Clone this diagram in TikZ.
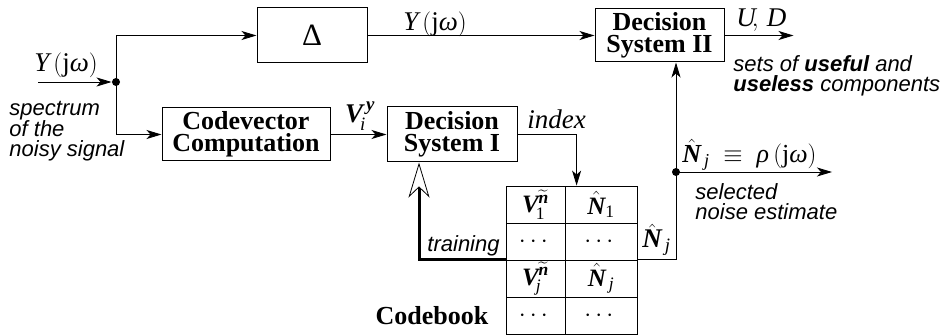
\documentclass[tikz,border=0pt]{standalone}
\usepackage{amsmath}
\usepackage{fontspec}
\setmainfont{Liberation Serif}
\setsansfont{Liberation Sans}
\usetikzlibrary{arrows.meta,calc}
\newcommand\bi[1]{\text{\bfseries\itshape #1}}
\newcommand\ti[1]{\text{\itshape #1}}
\newcommand\tu[1]{\text{#1}}
\begin{document}
\begin{tikzpicture}[x=1pt,y=-1pt, line width=0.9pt,
  box/.style={draw, line width=1pt, inner sep=0pt, font=\fontsize{26}{22}\selectfont\bfseries, align=center},
  cell/.style={draw, line width=0.8pt, inner sep=0pt, minimum height=37pt, font=\fontsize{25}{25}\selectfont},
  arr/.style={-{Stealth[length=15pt,width=9pt,inset=4pt]}},
  train/.style={line width=3pt,-{Stealth[open,fill=white,length=35pt,width=21pt,inset=10pt,line width=0.8pt]}},
  note/.style={font=\fontsize{22}{20}\selectfont\sffamily\itshape, align=left, inner sep=0pt},
  lab/.style={font=\fontsize{27}{24}\selectfont, inner sep=0pt},
  dotn/.style={circle, fill, inner sep=0pt, minimum size=8pt}
]
\useasboundingbox (0,0) rectangle (947,336);
% boxes
\node[box, minimum width=110pt, minimum height=55pt, font=\fontsize{31}{31}\selectfont] (delta) at (312,35.5) {Δ};
\node[box, minimum width=168pt, minimum height=53pt] (cv) at (246,134.5) {Codevector\\Computation};
\node[box, minimum width=130pt, minimum height=55pt] (ds1) at (452,134.5) {Decision\\System I};
\node[box, minimum width=129pt, minimum height=53pt] (ds2) at (659.5,35.5) {Decision\\System II};
% table
\node[cell, minimum width=59pt] (c11) at (535.5,204.5) {$\bi{V}_{\!\tu{1}}^{\widetilde{\bi{n}}}$};
\node[cell, minimum width=72pt] (c12) at (601,204.5) {$\hat{\bi{N}}_{\tu{1}}$};
\node[cell, minimum width=59pt] (c21) at (535.5,241.5) {$\cdots$};
\node[cell, minimum width=72pt] (c22) at (601,241.5) {$\cdots$};
\node[cell, minimum width=59pt] (c31) at (535.5,278.5) {$\bi{V}_{\!\ti{j}}^{\widetilde{\bi{n}}}$};
\node[cell, minimum width=72pt] (c32) at (601,278.5) {$\hat{\bi{N}}_{\,\ti{j}}$};
\node[cell, minimum width=59pt] (c41) at (535.5,315.5) {$\cdots$};
\node[cell, minimum width=72pt] (c42) at (601,315.5) {$\cdots$};
% junctions
\coordinate (in) at (38,82);
\node[dotn] (dot) at (116,82) {};
\node[dotn] (nd) at (676,172) {};
% connectors
\draw[arr] (in) -- (dot);
\draw[arr] (dot.center) |- (delta.west);
\draw[arr] (dot.center) |- (cv.west);
\draw[arr] (cv.east) -- (ds1.west);
\draw[arr] (delta.east) -- (ds2.west);
\draw[arr] (ds2.east) -- ++(69,0) coordinate (out1);
\draw[arr] (ds1.east) -| ($(c12.north west)+(12,0)$);
\draw[train] (c31.north west) -| ([xshift=-33pt]ds1.south);
\draw (c32.north east) -| (nd.center);
\draw[arr] (nd.center) -- (ds2.south -| nd);
\draw[arr] (nd.center) -- ++(156,0) coordinate (out2);
% labels
\node[lab, anchor=base] at (435,31) {$\ti{Y}\,(\tu{j}\ti{ω})$};
\node[lab, anchor=base] at (66,72) {$\ti{Y}\,(\tu{j}\ti{ω})$};
\node[lab, anchor=base] at (360,123) {$\bi{V}_{\!\ti{i}}^{\,\bi{y}}$};
\node[lab, anchor=base west] at (527,129) {\itshape index};
\node[lab, anchor=base west] at (736,27) {$\ti{U}\!,\, \ti{D}$};
\node[note, anchor=base west] at (733,92) {sets of \textbf{useful} and\\\textbf{useless} components};
\node[note, anchor=base west] at (9,157) {spectrum\\of the\\noisy signal};
\node[lab, anchor=base west, font=\fontsize{26}{26}\selectfont] at (682,163) {$\hat{\bi{N}}_{\,\ti{j}}\;\equiv\; \ti{ρ}\,(\tu{j}\ti{ω})$};
\node[note, anchor=base west] at (695,220) {selected\\noise estimate};
\node[note, anchor=base west] at (427,252) {training};
\node[lab, anchor=base west, font=\fontsize{27}{27}\selectfont] at (642,248) {$\hat{\bi{N}}_{\,\ti{j}}$};
\node[lab, anchor=base, font=\fontsize{26}{26}\selectfont\bfseries] at (432,325) {Codebook};
\end{tikzpicture}
\end{document}
